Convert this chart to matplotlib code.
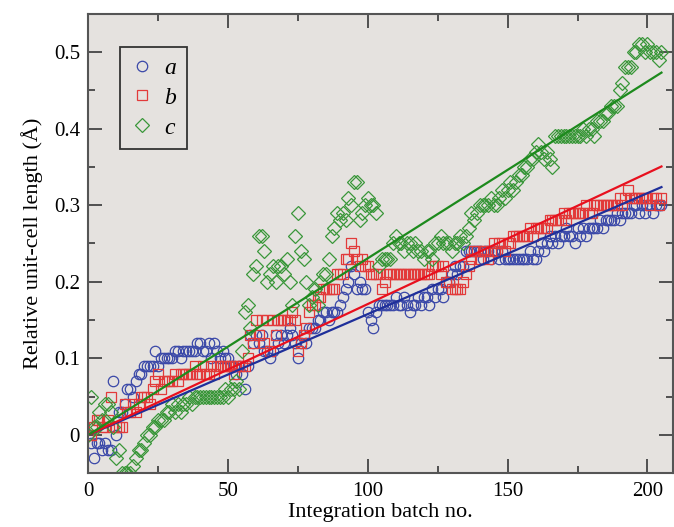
import numpy as np
import matplotlib
matplotlib.use("Agg")
import matplotlib.pyplot as plt
from matplotlib.ticker import MultipleLocator, FixedLocator

plt.rcParams['font.family'] = ['Liberation Serif', 'DejaVu Serif']

# batch numbers
batch = list(range(0, 206))

# relative unit-cell lengths (A)
a_len = [
    0.00, -0.01, -0.03, -0.01, -0.01, -0.02, -0.01, -0.02, -0.02, 0.07,
    0.00, 0.03, 0.03, 0.04, 0.06, 0.06, 0.05, 0.07, 0.08, 0.08,
    0.09, 0.09, 0.09, 0.09, 0.11, 0.09, 0.10, 0.10, 0.10, 0.10,
    0.10, 0.11, 0.11, 0.10, 0.11, 0.11, 0.11, 0.11, 0.11, 0.12,
    0.12, 0.11, 0.11, 0.12, 0.10, 0.12, 0.11, 0.10, 0.11, 0.10,
    0.10, 0.09, 0.09, 0.08, 0.09, 0.08, 0.06, 0.09, 0.13, 0.12,
    0.13, 0.12, 0.13, 0.11, 0.11, 0.10, 0.11, 0.13, 0.12, 0.13,
    0.12, 0.13, 0.14, 0.13, 0.12, 0.10, 0.12, 0.13, 0.12, 0.14,
    0.14, 0.14, 0.15, 0.15, 0.16, 0.16, 0.15, 0.16, 0.16, 0.16,
    0.17, 0.18, 0.19, 0.20, 0.22, 0.21, 0.19, 0.20, 0.19, 0.19,
    0.16, 0.15, 0.14, 0.16, 0.17, 0.17, 0.17, 0.17, 0.17, 0.17,
    0.18, 0.17, 0.17, 0.18, 0.17, 0.16, 0.17, 0.17, 0.18, 0.17,
    0.18, 0.18, 0.17, 0.19, 0.18, 0.19, 0.19, 0.18, 0.20, 0.20,
    0.21, 0.22, 0.21, 0.22, 0.22, 0.24, 0.24, 0.24, 0.24, 0.24,
    0.24, 0.23, 0.24, 0.24, 0.23, 0.24, 0.24, 0.23, 0.24, 0.23,
    0.23, 0.23, 0.23, 0.23, 0.23, 0.23, 0.23, 0.23, 0.24, 0.23,
    0.23, 0.24, 0.25, 0.24, 0.25, 0.26, 0.25, 0.26, 0.25, 0.26,
    0.26, 0.27, 0.26, 0.26, 0.25, 0.27, 0.26, 0.27, 0.26, 0.27,
    0.27, 0.27, 0.27, 0.28, 0.27, 0.28, 0.28, 0.28, 0.28, 0.29,
    0.28, 0.29, 0.29, 0.29, 0.29, 0.30, 0.30, 0.29, 0.30, 0.29,
    0.30, 0.30, 0.29, 0.30, 0.30, 0.30,
]
b_len = [
    0.00, 0.00, 0.01, 0.02, 0.02, 0.01, 0.01, 0.02, 0.05, 0.01,
    0.01, 0.01, 0.01, 0.04, 0.03, 0.03, 0.04, 0.03, 0.04, 0.05,
    0.05, 0.05, 0.04, 0.06, 0.07, 0.08, 0.06, 0.07, 0.07, 0.07,
    0.07, 0.08, 0.07, 0.08, 0.08, 0.08, 0.08, 0.08, 0.09, 0.08,
    0.08, 0.09, 0.08, 0.08, 0.09, 0.08, 0.09, 0.09, 0.09, 0.09,
    0.09, 0.09, 0.08, 0.09, 0.09, 0.09, 0.09, 0.10, 0.13, 0.12,
    0.15, 0.13, 0.15, 0.12, 0.15, 0.11, 0.15, 0.13, 0.15, 0.15,
    0.15, 0.15, 0.15, 0.16, 0.15, 0.11, 0.12, 0.13, 0.14, 0.16,
    0.17, 0.17, 0.18, 0.18, 0.19, 0.19, 0.19, 0.19, 0.19, 0.21,
    0.21, 0.21, 0.23, 0.23, 0.25, 0.24, 0.23, 0.22, 0.23, 0.22,
    0.22, 0.21, 0.21, 0.21, 0.21, 0.19, 0.20, 0.21, 0.21, 0.21,
    0.21, 0.21, 0.21, 0.21, 0.21, 0.21, 0.21, 0.21, 0.21, 0.21,
    0.21, 0.21, 0.21, 0.22, 0.22, 0.22, 0.21, 0.22, 0.20, 0.20,
    0.19, 0.19, 0.19, 0.19, 0.20, 0.21, 0.22, 0.23, 0.24, 0.24,
    0.23, 0.24, 0.24, 0.23, 0.24, 0.25, 0.24, 0.25, 0.25, 0.24,
    0.25, 0.25, 0.26, 0.26, 0.26, 0.26, 0.26, 0.26, 0.27, 0.26,
    0.27, 0.27, 0.27, 0.27, 0.27, 0.28, 0.28, 0.28, 0.28, 0.28,
    0.29, 0.28, 0.29, 0.29, 0.29, 0.29, 0.29, 0.29, 0.30, 0.29,
    0.29, 0.30, 0.30, 0.30, 0.30, 0.30, 0.30, 0.30, 0.30, 0.30,
    0.31, 0.30, 0.31, 0.32, 0.31, 0.31, 0.31, 0.31, 0.31, 0.31,
    0.31, 0.30, 0.31, 0.31, 0.30, 0.31,
]
c_len = [
    0.00, 0.05, 0.01, 0.01, 0.03, 0.02, 0.04, 0.04, 0.03, 0.01,
    -0.03, -0.02, -0.05, -0.05, -0.05, -0.05, -0.04, -0.03, -0.02, -0.02,
    -0.01, 0.00, 0.00, 0.01, 0.01, 0.02, 0.02, 0.02, 0.03, 0.03,
    0.04, 0.03, 0.04, 0.03, 0.04, 0.04, 0.05, 0.04, 0.05, 0.05,
    0.05, 0.05, 0.05, 0.05, 0.05, 0.05, 0.05, 0.05, 0.05, 0.06,
    0.05, 0.06, 0.06, 0.07, 0.06, 0.11, 0.16, 0.17, 0.14, 0.21,
    0.22, 0.26, 0.26, 0.24, 0.20, 0.21, 0.22, 0.20, 0.22, 0.22,
    0.21, 0.23, 0.20, 0.17, 0.26, 0.29, 0.24, 0.23, 0.20, 0.17,
    0.18, 0.19, 0.17, 0.20, 0.21, 0.21, 0.23, 0.26, 0.27, 0.29,
    0.28, 0.29, 0.28, 0.31, 0.30, 0.33, 0.33, 0.28, 0.29, 0.30,
    0.31, 0.30, 0.30, 0.29, 0.22, 0.23, 0.23, 0.23, 0.23, 0.25,
    0.26, 0.25, 0.25, 0.24, 0.25, 0.25, 0.24, 0.25, 0.24, 0.24,
    0.23, 0.24, 0.24, 0.23, 0.25, 0.25, 0.26, 0.25, 0.25, 0.25,
    0.24, 0.25, 0.25, 0.26, 0.25, 0.26, 0.27, 0.29, 0.28, 0.29,
    0.30, 0.30, 0.30, 0.30, 0.31, 0.30, 0.30, 0.31, 0.32, 0.31,
    0.32, 0.33, 0.32, 0.33, 0.34, 0.34, 0.35, 0.35, 0.36, 0.36,
    0.37, 0.38, 0.37, 0.36, 0.37, 0.36, 0.35, 0.39, 0.39, 0.39,
    0.39, 0.39, 0.39, 0.39, 0.39, 0.39, 0.39, 0.40, 0.39, 0.40,
    0.40, 0.39, 0.41, 0.41, 0.41, 0.42, 0.42, 0.43, 0.43, 0.43,
    0.45, 0.46, 0.48, 0.48, 0.48, 0.50, 0.50, 0.51, 0.51, 0.50,
    0.51, 0.50, 0.50, 0.50, 0.49, 0.50,
]

series = [('a', a_len, '#3a48a8', '#1f2f9a', 'o', 7.5),
          ('b', b_len, '#e23a3a', '#e8101e', 's', 7.0),
          ('c', c_len, '#3a973a', '#1d8a1d', 'D', 6.8)]

fig = plt.figure(figsize=(6.74, 5.27), dpi=100)
ax = fig.add_axes([0.131, 0.102, 0.867, 0.872])
ax.set_facecolor('#e5e2df')

x = np.array(batch, dtype=float)
for name, vals, mcol, lcol, mk, ms in series:
    y = np.array(vals)
    ax.plot(x, y, linestyle='None', marker=mk, markersize=ms, markerfacecolor='none',
            markeredgecolor=mcol, markeredgewidth=0.9, label=name)

for name, vals, mcol, lcol, mk, ms in series:
    y = np.array(vals)
    # linear fit through the origin
    slope = np.sum(x * y) / np.sum(x * x)
    xf = np.array([0, x.max()])
    ax.plot(xf, slope * xf, color=lcol, linewidth=1.6)

ax.set_xlim(0, 209)
ax.set_ylim(-0.05, 0.55)
ax.xaxis.set_major_locator(MultipleLocator(50))
ax.xaxis.set_minor_locator(MultipleLocator(25))
ax.yaxis.set_major_locator(FixedLocator([0, 0.1, 0.2, 0.3, 0.4, 0.5]))
ax.yaxis.set_minor_locator(MultipleLocator(0.05))
ax.set_yticklabels(['0', '0.1', '0.2', '0.3', '0.4', '0.5'])

ax.tick_params(which='both', direction='in', top=True, right=True, color='#444444',
               width=1.3, labelsize=15, pad=6)
ax.tick_params(which='major', length=10)
ax.tick_params(which='minor', length=5)
for sp in ax.spines.values():
    sp.set_color('#555555')
    sp.set_linewidth(1.5)

ax.set_xlabel('Integration batch no.', fontsize=16, labelpad=2)
ax.set_ylabel('Relative unit-cell length (Å)', fontsize=16, labelpad=8)

leg = ax.legend(loc='upper left', bbox_to_anchor=(0.055, 0.928), borderaxespad=0,
                prop={'style': 'italic', 'size': 17}, handletextpad=0.5,
                handlelength=0.9, labelspacing=0.35, borderpad=0.45,
                fancybox=False, framealpha=1, facecolor='#e5e2df', edgecolor='#333333')
leg.get_frame().set_linewidth(1.3)

fig.savefig('out.png', dpi=100)
